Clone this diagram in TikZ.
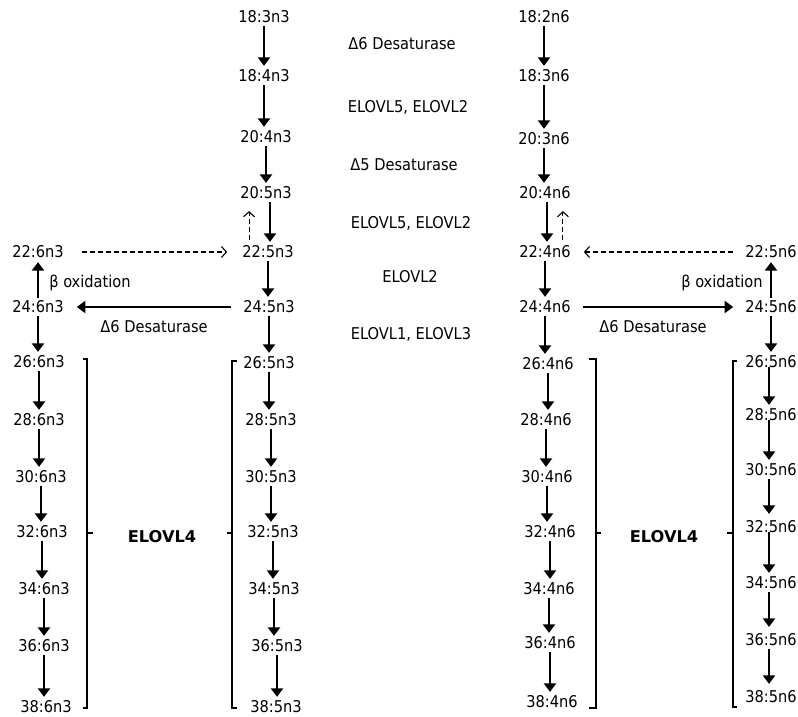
\documentclass[tikz,border=0pt]{standalone}
\usepackage{fontspec}
\setmainfont{DejaVu Sans Condensed}
\newfontfamily\widefont{DejaVu Sans}
\usetikzlibrary{arrows.meta}
\begin{document}
\begin{tikzpicture}[x=1bp,y=-1bp,
  fa/.style={font=\fontsize{16.3}{19}\selectfont, inner sep=2pt, text height=11.9pt, text depth=0pt},
  boldlbl/.style={font=\widefont\fontsize{16.3}{19}\selectfont\bfseries, inner sep=2pt, text height=11.9pt, text depth=0pt},
  arr/.style={line width=2.7pt, -{Triangle[width=12pt,length=8.5pt]}, shorten >=2pt, shorten <=1pt},
  darr/.style={line width=1.1pt, dash pattern=on 5pt off 3pt, -{Straight Barb[length=5pt,width=11pt]}},
  brk/.style={line width=2pt}]
\useasboundingbox (0,0) rectangle (798,717);

% column A (n3, 6n3)
\node[fa] (L22) at (38,252) {22:6n3};
\node[fa] (L24) at (38,307) {24:6n3};
\node[fa] (L26) at (39,362) {26:6n3};
\node[fa] (L28) at (39,420) {28:6n3};
\node[fa] (L30) at (41,477) {30:6n3};
\node[fa] (L32) at (42,532) {32:6n3};
\node[fa] (L34) at (44,589) {34:6n3};
\node[fa] (L36) at (44,646) {36:6n3};
\node[fa] (L38) at (46,707) {38:6n3};

% column B (n3 main)
\node[fa] (M18a) at (264,17) {18:3n3};
\node[fa] (M18b) at (264,76) {18:4n3};
\node[fa] (M20a) at (266,137) {20:4n3};
\node[fa] (M20b) at (266,193) {20:5n3};
\node[fa] (M22) at (268,252) {22:5n3};
\node[fa] (M24) at (269,307) {24:5n3};
\node[fa] (M26) at (269,363) {26:5n3};
\node[fa] (M28) at (271,420) {28:5n3};
\node[fa] (M30) at (271,477) {30:5n3};
\node[fa] (M32) at (273,532) {32:5n3};
\node[fa] (M34) at (274,589) {34:5n3};
\node[fa] (M36) at (277,646) {36:5n3};
\node[fa] (M38) at (276,707) {38:5n3};

% column C (n6 main)
\node[fa] (N18a) at (544,17) {18:2n6};
\node[fa] (N18b) at (544,76) {18:3n6};
\node[fa] (N20a) at (544,139) {20:3n6};
\node[fa] (N20b) at (545,193) {20:4n6};
\node[fa] (N22) at (545,252) {22:4n6};
\node[fa] (N24) at (545,307) {24:4n6};
\node[fa] (N26) at (548,364) {26:4n6};
\node[fa] (N28) at (546,420) {28:4n6};
\node[fa] (N30) at (547,477) {30:4n6};
\node[fa] (N32) at (550,532) {32:4n6};
\node[fa] (N34) at (549,589) {34:4n6};
\node[fa] (N36) at (550,643) {36:4n6};
\node[fa] (N38) at (552,702) {38:4n6};

% column D (n6, 5n6)
\node[fa] (R22) at (771,252) {22:5n6};
\node[fa] (R24) at (771,307) {24:5n6};
\node[fa] (R26) at (771,362) {26:5n6};
\node[fa] (R28) at (771,415) {28:5n6};
\node[fa] (R30) at (771,470) {30:5n6};
\node[fa] (R32) at (771,527) {32:5n6};
\node[fa] (R34) at (771,583) {34:5n6};
\node[fa] (R36) at (771,640) {36:5n6};
\node[fa] (R38) at (771,697) {38:5n6};

% enzyme labels
\node[fa] (e1) at (402,44) {Δ6 Desaturase};
\node[fa] (e2) at (408,107) {ELOVL5, ELOVL2};
\node[fa] (e3) at (404,165) {Δ5 Desaturase};
\node[fa] (e4) at (411,223) {ELOVL5, ELOVL2};
\node[fa] (e5) at (410,277) {ELOVL2};
\node[fa] (e6) at (411,334) {ELOVL1, ELOVL3};
\node[fa] (bl) at (90,282) {β oxidation};
\node[fa] (dl) at (154,327) {Δ6 Desaturase};
\node[fa] (br) at (722,282) {β oxidation};
\node[fa] (dr) at (653,327) {Δ6 Desaturase};
\node[boldlbl] (el) at (162,537) {ELOVL4};
\node[boldlbl] (er) at (664,537) {ELOVL4};

% vertical down arrows
\foreach \a/\b in {L24/L26,L26/L28,L28/L30,L30/L32,L32/L34,L34/L36,L36/L38,
  M18a/M18b,M18b/M20a,M20a/M20b,M22/M24,M24/M26,M26/M28,M28/M30,M30/M32,M32/M34,M34/M36,M36/M38,
  N18a/N18b,N18b/N20a,N20a/N20b,N22/N24,N24/N26,N26/N28,N28/N30,N30/N32,N32/N34,N34/N36,N36/N38,
  R24/R26}
  \draw[arr] (\a.south) -- (\a.south |- \b.north);
% right column: lines start inside the lower part of the labels, as printed
\foreach \a/\b in {R26/R28,R28/R30,R32/R34}
  \draw[arr, shorten >=6pt] ([xshift=-2pt,yshift=-4pt]\a.center) -- ([xshift=-2pt,yshift=-4pt]\a.center |- \b.north);
\foreach \a/\b in {R30/R32,R34/R36,R36/R38}
  \draw[arr, shorten >=5pt] ([xshift=-2pt]\a.south) -- ([xshift=-2pt]\a.south |- \b.north);

% beta oxidation up arrows
\draw[arr] (L24.north) -- (L24.north |- L22.south);
\draw[arr] (R24.north) -- (R24.north |- R22.south);

% 20 -> 22 with retroconversion
\draw[arr] ([xshift=4pt]M20b.south) -- ([xshift=4pt]M20b.south |- M22.north);
\draw[darr, shorten <=4pt, shorten >=10pt] ([xshift=-19pt]M22.north) -- ([xshift=-19pt]M22.north |- M20b.south);
\draw[arr] ([xshift=2pt]N20b.south) -- ([xshift=2pt]N20b.south |- N22.north);
\draw[darr, shorten <=4pt, shorten >=10pt] ([xshift=18pt]N22.north) -- ([xshift=18pt]N22.north |- N20b.south);

% horizontal arrows
\draw[arr, shorten <=10pt, shorten >=11pt] (M24.west) -- (L24.east);
\draw[arr, shorten <=10pt, shorten >=10pt] (N24.east) -- (R24.west);
\draw[darr, shorten <=16pt, shorten >=13pt] (L22.east) -- (M22.west);
\draw[darr, shorten <=10pt, shorten >=11pt] (R22.west) -- (N22.east);

% brackets
\draw[brk] (83,359) -- (87,359) -- (87,708) -- (83,708);
\draw[brk] (87,533) -- (93,533);
\draw[brk] (237,361) -- (232,361) -- (232,708) -- (237,708);
\draw[brk] (232,533) -- (227,533);
\draw[brk] (589,359) -- (596,359) -- (596,708) -- (589,708);
\draw[brk] (596,533) -- (601,533);
\draw[brk] (737,361) -- (733,361) -- (733,707) -- (737,707);
\draw[brk] (733,533) -- (727,533);
\end{tikzpicture}
\end{document}
